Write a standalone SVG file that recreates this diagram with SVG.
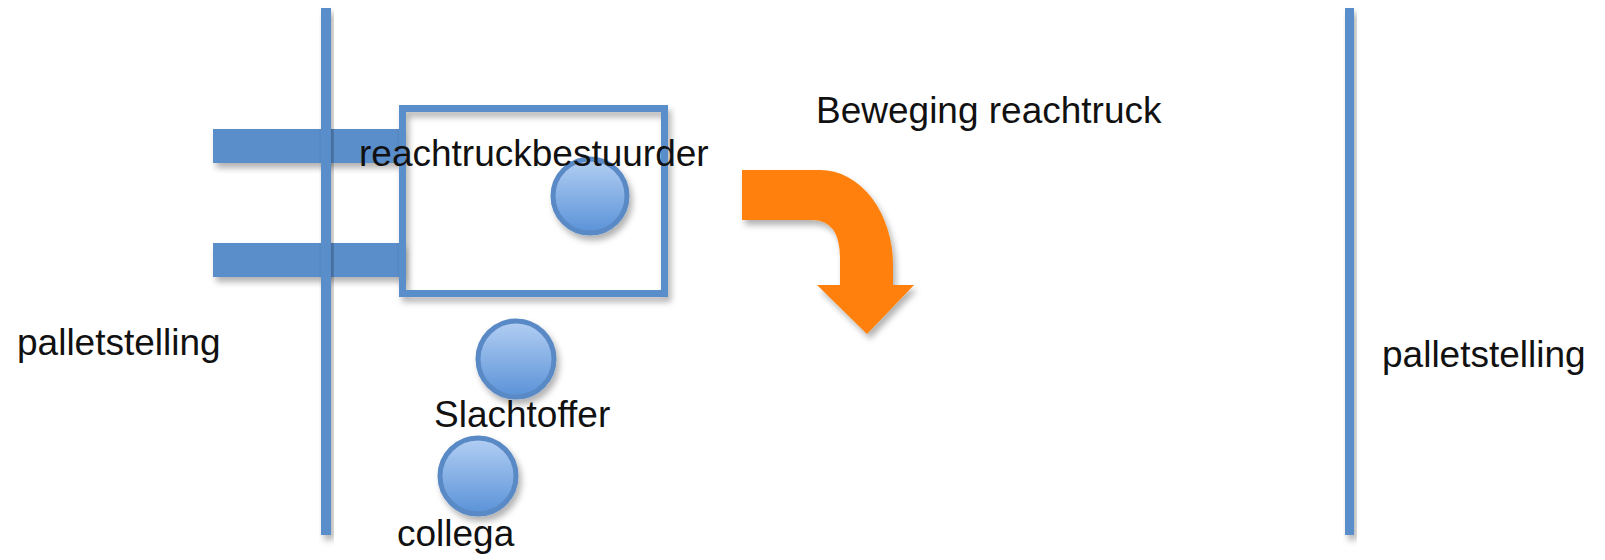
<svg xmlns="http://www.w3.org/2000/svg" width="1605" height="560" viewBox="0 0 1605 560">
<style>
.lbl{font-family:"Liberation Sans",Arial,sans-serif;font-size:37px;fill:#111}
.blue{fill:#5A8ECB}
.person{fill:url(#pg);stroke:#5A8AC6;stroke-width:5}
</style>
<defs>
<filter id="sh" x="-20%" y="-20%" width="150%" height="150%">
<feDropShadow dx="3" dy="5" stdDeviation="3" flood-color="#000" flood-opacity="0.3"/>
</filter>
<linearGradient id="pg" x1="0" y1="0" x2="0" y2="1">
<stop offset="0" stop-color="#B3CFF3"/>
<stop offset="1" stop-color="#5A92D8"/>
</linearGradient>
</defs>
<rect width="1605" height="560" fill="#fff"/>
<g id="pallets-left">
<rect class="blue" x="213" y="129" width="187" height="34" filter="url(#sh)"/>
<rect class="blue" x="213" y="243" width="190" height="34" filter="url(#sh)"/>
<rect class="blue" x="321" y="8" width="10" height="527" filter="url(#sh)"/>
</g>
<g id="rack-right">
<rect class="blue" x="1345" y="8" width="9" height="527" filter="url(#sh)"/>
</g>
<g id="reachtruck">
<rect x="402.5" y="108.5" width="262" height="185" fill="none" stroke="#5A8ECB" stroke-width="7" filter="url(#sh)"/>
</g>
<g id="driver">
<circle class="person" cx="590" cy="196" r="37" filter="url(#sh)"/>
</g>
<g id="victim">
<circle class="person" cx="516" cy="359" r="38" filter="url(#sh)"/>
</g>
<g id="colleague">
<circle class="person" cx="478" cy="476" r="38" filter="url(#sh)"/>
</g>
<g id="movement-arrow">
<path d="M742,170 L820,170 A73,95 0 0 1 893,265 L893,285 L914,285 L867,334 L817,285 L840,285 L840,258 Q840,220 812,220 L742,220 Z" fill="#FF8008" filter="url(#sh)"/>
</g>
<g id="labels">
<text class="lbl" x="17" y="355">palletstelling</text>
<text class="lbl" x="1382" y="367">palletstelling</text>
<text class="lbl" x="816" y="123">Beweging reachtruck</text>
<text class="lbl" x="359" y="166">reachtruckbestuurder</text>
<text class="lbl" x="434" y="427">Slachtoffer</text>
<text class="lbl" x="397" y="546">collega</text>
</g>
</svg>
